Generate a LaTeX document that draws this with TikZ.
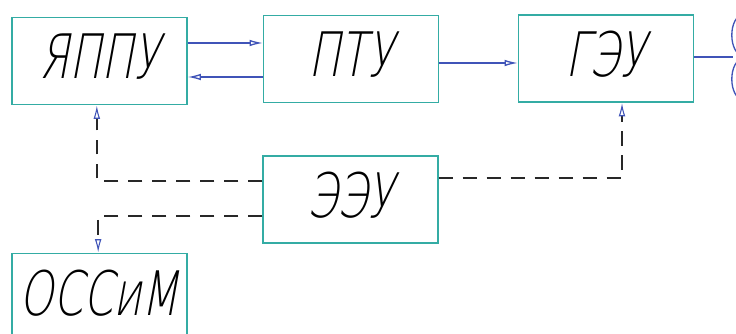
\documentclass[tikz,border=0pt]{standalone}
\usepackage{fontspec}
\setmainfont{Liberation Sans}
\newfontfamily\gostfont[FakeSlant=0.26]{DejaVu Sans ExtraLight}
\usepackage{graphicx}
\usetikzlibrary{arrows.meta}
\definecolor{boxteal}{RGB}{52,172,164}
\definecolor{linkblue}{RGB}{64,84,184}
\definecolor{ctrlgray}{RGB}{40,40,40}
\def\blk#1{\scalebox{0.7}[1]{\gostfont #1}}

\begin{document}
\begin{tikzpicture}[x=0.75pt, y=-0.75pt,
		block/.style={draw=boxteal, line width=1.2pt, minimum width=131pt, minimum height=65.5pt, inner sep=0pt, text depth=7pt, font=\fontsize{46}{46}\selectfont},
		flow/.style={draw=linkblue, line width=1pt, -{Latex[open,length=10pt,width=5pt]}},
		ctrl/.style={draw=ctrlgray, line width=1.1pt, dash pattern=on 11pt off 7pt, -{Latex[open,length=10pt,width=5pt,color=linkblue,line width=0.8pt]}}]
			%%%%% START %%%%%
			
			\useasboundingbox (0, 0) rectangle (736, 334);
			
			\node[block] (yappu) at (99.5, 61) {\blk{ЯППУ}};
			\node[block] (ptu) at (351, 59) {\blk{ПТУ}};
			\node[block] (geu) at (606, 58.5) {\blk{ГЭУ}};
			\node[block] (eeu) at (350.5, 199.5) {\blk{ЭЭУ}};
			\node[block] (ossim) at (99.5, 297) {\blk{ОССиМ}};
			
			\draw[flow] ([yshift=13.5pt]yappu.east) -- ([yshift=13.5pt]yappu.east -| ptu.west);
			\draw[flow] ([yshift=-13.5pt]ptu.west) -- ([yshift=-13.5pt]ptu.west -| yappu.east);
			\draw[flow] ([yshift=-3pt]ptu.east) -- ([yshift=-3pt]ptu.east -| geu.west);
			
			% screw
			\draw[linkblue, line width=1pt] ([yshift=1pt]geu.east) -- ++(39, 0) coordinate (hub);
			\draw[linkblue, line width=1pt] ([xshift=7pt, yshift=16.5pt]hub) ellipse [x radius=8pt, y radius=15pt];
			\draw[linkblue, line width=1pt] ([xshift=7pt, yshift=-16.5pt]hub) ellipse [x radius=8pt, y radius=15pt];
			
			\draw[ctrl] ([yshift=14pt]eeu.west) -| ([xshift=-2pt]yappu.south);
			\draw[ctrl] ([yshift=-12.5pt]eeu.west) -| ([xshift=-1pt]ossim.north);
			\draw[ctrl] ([yshift=16pt]eeu.east) -| ([xshift=12pt]geu.south);
			
			%%%%% END %%%%%
		\end{tikzpicture}
\end{document}
